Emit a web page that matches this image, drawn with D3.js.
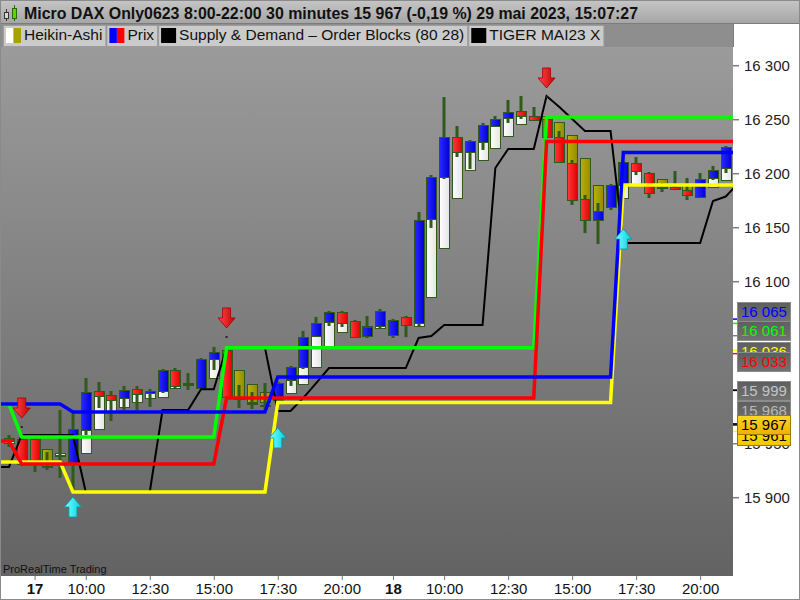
<!DOCTYPE html>
<html><head><meta charset="utf-8">
<script src="https://cdn.jsdelivr.net/npm/d3@7"></script>
<style>body{margin:0;background:#fff}svg{display:block;font-family:"Liberation Sans",Arial,sans-serif}</style>
</head><body><svg id="c" width="800" height="600"></svg>
<script>
// ---------------- DATA ----------------
const titleText = "Micro DAX Only0623 8:00-22:00 30 minutes 15 967 (-0,19 %) 29 mai 2023, 15:07:27";
const legendLabels = ["Heikin-Ashi", "Prix", "Supply & Demand \u2013 Order Blocks (80 28)", "TIGER MAI23 X"];
const footerText = "ProRealTime Trading";

// candles: bar index (0 = day 17, 8:00; 30 min bars, 28 bars per session)
const candleStart = -2;
const priceOpen  = [15954.9,15954.0,15954.0,15929.0,15938.7,15931.8,15962.3,15998.4,15994.7,15992.0,16000.3,15996.6,15998.4,16017.9,16004.9,16001.2,16028.1,16036.4,15992.0,15987.3,15985.5,15990.1,16008.6,16020.7,16049.4,16062.3,16071.6,16063.3,16049.4,16058.6,16050.3,16067.0,16061.4,16157.7,16196.6,16233.6,16219.7,16229.0,16243.8,16251.2,16257.7,16253.1,16250.3,16233.6,16209.5,16176.2,16156.8,16168.8,16189.2,16209.5,16200.3,16187.3,16187.3,16184.5,16178.1,16195.7,16204.9];
const priceHigh  = [15957.7,15955.8,15955.8,15941.9,15980.8,15978.1,16010.5,16006.8,15998.4,16003.1,16003.1,16000.3,16018.8,16019.7,16015.1,16029.0,16039.2,16037.3,16004.0,15997.5,16005.8,16006.8,16021.6,16054.0,16067.0,16072.5,16072.5,16064.2,16067.9,16074.4,16065.1,16067.9,16164.2,16198.4,16270.6,16243.8,16230.8,16246.6,16253.1,16267.9,16271.6,16261.4,16253.1,16239.2,16212.3,16179.9,16172.5,16190.1,16211.4,16215.1,16201.2,16191.0,16202.1,16195.7,16200.3,16206.8,16225.3];
const priceLow   = [15946.6,15929.0,15923.4,15925.3,15917.9,15904.9,15957.7,15982.7,15970.7,15980.8,15980.8,15983.6,15996.6,16001.2,15999.4,16000.3,16017.9,15992.0,15982.7,15981.8,15980.8,15988.3,16003.1,16018.8,16048.4,16058.6,16057.7,16047.5,16047.5,16056.8,16047.5,16048.4,16058.6,16149.4,16194.7,16215.1,16204.0,16221.6,16242.9,16246.6,16250.3,16248.4,16232.7,16209.5,16170.7,16144.7,16134.5,16166.0,16184.5,16198.4,16177.1,16182.7,16184.5,16175.3,16177.1,16193.8,16200.3];
const priceClose = [15952.1,15930.8,15930.8,15928.1,15939.6,15963.3,15997.5,15993.8,15990.1,15999.4,15995.7,15998.4,16017.9,16003.1,16005.0,16028.1,16034.5,15992.9,15991.5,15986.8,15985.0,16005.8,16020.7,16048.4,16061.4,16071.6,16061.4,16048.4,16057.7,16072.5,16064.2,16059.5,16156.8,16196.6,16233.6,16219.7,16229.9,16244.7,16250.3,16256.8,16253.1,16249.4,16233.6,16210.5,16175.3,16156.8,16165.1,16189.2,16210.5,16202.1,16181.8,16186.4,16185.5,16179.9,16194.7,16203.1,16224.4];
const haOpen     = [15950.3,15952.1,15947.3,15944.7,15938.3,15939.6,15941.0,15963.3,15979.0,15983.6,15988.3,15992.0,15992.9,16001.2,16004.0,16004.9,16010.5,16022.0,16017.9,16004.9,15997.5,15992.9,15996.6,16004.9,16020.7,16039.2,16053.1,16061.9,16058.6,16056.8,16063.3,16060.0,16058.6,16085.5,16130.8,16177.1,16203.1,16212.3,16223.4,16234.5,16245.6,16251.7,16253.1,16247.5,16235.5,16214.2,16189.2,16173.4,16177.1,16190.1,16198.9,16194.5,16190.5,16189.2,16186.6,16187.3,16193.8];
const haClose    = [15954.0,15942.4,15941.0,15929.0,15941.0,15944.7,15981.8,15996.6,15991.0,15997.5,16000.3,15998.4,16016.0,16017.0,16005.8,16015.1,16033.6,16014.6,15992.0,15988.3,15988.3,15997.5,16019.7,16046.6,16060.5,16069.7,16070.7,16055.8,16055.8,16069.7,16056.8,16060.7,16110.5,16175.3,16223.9,16228.1,16221.6,16235.5,16247.5,16255.8,16257.7,16253.1,16242.4,16223.4,16192.0,16164.2,16157.2,16178.5,16198.9,16207.7,16190.1,16186.4,16189.9,16184.1,16187.5,16201.2,16213.7];

// indicator lines, one value per bar from index -3 to 55
const lineStart = -3;
const blueLine   = [15986.4,15986.4,15986.4,15986.4,15986.4,15986.4,15979.0,15979.0,15979.0,15979.0,15979.0,15979.0,15979.0,15979.0,15979.0,15979.0,15979.0,15979.0,15979.0,15979.0,15979.0,15979.0,16011.4,16011.4,16011.4,16011.4,16011.4,16011.4,16011.4,16011.4,16011.4,16011.4,16011.4,16011.4,16011.4,16011.4,16011.4,16011.4,16011.4,16011.4,16011.4,16011.4,16011.4,16011.4,16011.4,16011.4,16011.4,16011.4,16011.4,16219.3,16219.3,16219.3,16219.3,16219.3,16219.3,16219.3,16219.3,16219.3,16219.3];
const greenLine  = [15986.0,15986.0,15955.8,15955.8,15955.8,15955.8,15955.8,15955.8,15955.8,15955.8,15955.8,15955.8,15955.8,15955.8,15955.8,15955.8,15955.8,15955.8,16038.5,16038.5,16038.5,16038.5,16038.5,16038.5,16038.5,16038.5,16038.5,16038.5,16038.5,16038.5,16038.5,16038.5,16038.5,16038.5,16038.5,16038.5,16038.5,16038.5,16038.5,16038.5,16038.5,16038.5,16038.5,16252.1,16252.1,16252.1,16252.1,16252.1,16252.1,16252.1,16252.1,16252.1,16252.1,16252.1,16252.1,16252.1,16252.1,16252.1,16252.1];
const redLine    = [15952.1,15952.1,15930.8,15930.8,15930.8,15930.8,15930.8,15930.8,15930.8,15930.8,15930.8,15930.8,15930.8,15930.8,15930.8,15930.8,15930.8,15930.8,15992.0,15992.0,15992.0,15992.0,15992.0,15992.0,15992.0,15992.0,15992.0,15992.0,15992.0,15992.0,15992.0,15992.0,15992.0,15992.0,15992.0,15992.0,15992.0,15992.0,15992.0,15992.0,15992.0,15992.0,15992.0,16229.5,16229.5,16229.5,16229.5,16229.5,16229.5,16229.5,16229.5,16229.5,16229.5,16229.5,16229.5,16229.5,16229.5,16229.5,16229.5];
const yellowLine = [15932.7,15932.7,15932.7,15932.7,15932.7,15932.7,15904.9,15904.9,15904.9,15904.9,15904.9,15904.9,15904.9,15904.9,15904.9,15904.9,15904.9,15904.9,15904.9,15904.9,15904.9,15904.9,15987.8,15987.8,15987.8,15987.8,15987.8,15987.8,15987.8,15987.8,15987.8,15987.8,15987.8,15987.8,15987.8,15987.8,15987.8,15987.8,15987.8,15987.8,15987.8,15987.8,15987.8,15987.8,15987.8,15987.8,15987.8,15987.8,15987.8,16189.2,16189.2,16189.2,16189.2,16189.2,16189.2,16189.2,16189.2,16189.2,16189.2];
const blackLine  = [15928.1,15928.1,15957.7,15957.7,15957.7,15957.7,15957.7,15904.9,15904.9,15904.9,15904.9,15904.9,15904.9,15980.8,15980.8,15980.8,16000.1,16000.1,16038.5,16038.5,16038.5,16038.5,15979.9,15979.9,15992.0,16005.8,16019.7,16019.7,16019.7,16019.7,16019.7,16019.7,16019.7,16047.5,16049.4,16059.5,16059.5,16059.5,16059.5,16204.9,16222.5,16222.5,16222.5,16271.6,16261.4,16250.3,16239.2,16239.2,16239.2,16135.5,16135.5,16135.5,16135.5,16135.5,16135.5,16135.5,16174.4,16178.5,16191.0];

// signal arrows (bar index, price of the arrow tip)
const sellIdx = [-1, 15, 40];
const sellPrice = [15973.4, 16056.8, 16279.0];
const buyIdx = [3, 19, 46];
const buyPrice = [15900.3, 15964.2, 16148.4];

// axes
const timeTickIdx = [0, 4, 9, 14, 19, 24, 28, 32, 37, 42, 47, 52];
const timeTickLabels = ["17", "10:00", "12:30", "15:00", "17:30", "20:00", "18", "10:00", "12:30", "15:00", "17:30", "20:00"];
const dayLabels = ["17", "18"];
const priceTicks = [15900, 15950, 16000, 16050, 16100, 16150, 16200, 16250, 16300];

// right-hand price tags
const tagValues = [16065, 16061, 16036, 16033, 15999, 15968, 15961, 15967];

// ---------------- STYLES / LAYOUT ----------------
const tagStyles = [
  {text:"#0000ff", bg:"grey", tick:"#0000ff"},
  {text:"#00ff00", bg:"grey", tick:"#00ff00"},
  {text:"#ffff00", bg:"grey", tick:"#ffff00"},
  {text:"#ff0000", bg:"grey", tick:"#ff0000"},
  {text:"#c4c4c4", bg:"grey", tick:"#000000"},
  {text:"#b8b8b8", bg:"grey", tick:"#000000"},
  {text:"#000000", bg:"yellow", tick:"#ffff00"},
  {text:"#000000", bg:"gold", tick:"#000000"}
];
const tagNudge = [-8, 6.7, 1.2, 7.4, 0, -13.3, 4.5, -0.4];
const legendSwatches = [["#ffffff", "#a9a100"], ["#0000ff", "#ff0000"], ["#000000"], ["#000000"]];
const C = {wick:"#2f5a1c"};

const PX0 = 0, PX1 = 733, PY0 = 47, PY1 = 576;

const svg = d3.select("#c");
const defs = svg.append("defs");
function lg(id, dir, stops) {
  const g = defs.append("linearGradient").attr("id", id)
    .attr("x1", 0).attr("y1", 0).attr("x2", dir === "h" ? 1 : 0).attr("y2", dir === "h" ? 0 : 1);
  stops.forEach((s, i) => g.append("stop").attr("offset", i / (stops.length - 1)).attr("stop-color", s));
}
lg("gPlot", "v", ["#9b9b9b", "#636363"]);
lg("gTitle", "v", ["#c6c6c6", "#a6a6a6"]);
lg("gWhite", "h", ["#ffffff", "#e4e4e4"]);
lg("gOlive", "h", ["#bab200", "#948c00"]);
lg("gBlue", "h", ["#2a2aff", "#0000d8"]);
lg("gRed", "h", ["#ff3a3a", "#e00000"]);
lg("gArrowR", "h", ["#ff4a4a", "#c80000"]);
lg("gArrowC", "h", ["#7fffff", "#00d0e0"]);
lg("gTagGrey", "v", ["#5e5e5e", "#727272"]);
lg("gTagGold", "v", ["#ffd820", "#eeb000"]);
lg("gTagYellow", "v", ["#ffee00", "#f2c400"]);
defs.append("clipPath").attr("id", "clipPlot").append("rect")
  .attr("x", PX0).attr("y", PY0).attr("width", PX1 - PX0).attr("height", PY1 - PY0);

// backgrounds
svg.append("rect").attr("x", 0).attr("y", 0).attr("width", 800).attr("height", 600).attr("fill", "#fff");
svg.append("rect").attr("x", PX0).attr("y", PY0).attr("width", PX1 - PX0).attr("height", PY1 - PY0).attr("fill", "url(#gPlot)");
svg.append("rect").attr("x", 0).attr("y", 23).attr("width", PX1).attr("height", PY0 - 23).attr("fill", "#8e8e8e");
svg.append("rect").attr("x", 0).attr("y", 0).attr("width", 800).attr("height", 23).attr("fill", "url(#gTitle)");
svg.append("line").attr("x1", 0).attr("x2", 800).attr("y1", 23.5).attr("y2", 23.5).attr("stroke", "#7c7c7c");
svg.append("line").attr("x1", PX1 + 0.5).attr("x2", PX1 + 0.5).attr("y1", 24).attr("y2", PY0).attr("stroke", "#7c7c7c");

// scales
const x = d3.scaleLinear().domain([-2.7, 54.6]).range([PX0, PX0 + 57.3 * 12.8]);
const y = d3.scaleLinear().domain([15900, 16300]).range([497.3, 65.3]);

// ---------------- candles ----------------
const candles = priceOpen.map((o, k) => ({
  i: candleStart + k, o, h: priceHigh[k], l: priceLow[k], c: priceClose[k], ho: haOpen[k], hc: haClose[k]
}));
const gC = svg.append("g").attr("clip-path", "url(#clipPlot)");
const half = 5;
function box(sel, a, b, fill) {
  const y1 = Math.round(y(Math.max(a, b))), y2 = Math.round(y(Math.min(a, b)));
  sel.append("rect").attr("x", d => Math.round(x(d.i)) - half + 0.5).attr("width", 2 * half)
    .attr("y", y1 + 0.5).attr("height", Math.max(1, y2 - y1)).attr("fill", fill)
    .attr("stroke", C.wick).attr("stroke-width", 1);
}
candles.forEach(d => {
  const g = gC.append("g").datum(d);
  box(g, d.ho, d.hc, d.hc >= d.ho ? "url(#gWhite)" : "url(#gOlive)");
  g.append("rect").attr("x", Math.round(x(d.i)) - 1.5).attr("width", 3)
    .attr("y", y(d.h)).attr("height", y(d.l) - y(d.h)).attr("fill", C.wick);
  box(g, d.o, d.c, d.c >= d.o ? "url(#gBlue)" : "url(#gRed)");
});

// ---------------- lines ----------------
const gL = svg.append("g").attr("clip-path", "url(#clipPlot)");
const lineGen = d3.line().x((v, k) => x(lineStart + k)).y(v => y(v));
[[blackLine, "#000000", 2], [yellowLine, "#ffff00", 3.5], [greenLine, "#00ff00", 3.5],
 [redLine, "#ff0000", 3.5], [blueLine, "#0000ff", 3.5]].forEach(([vals, col, w]) => {
  gL.append("path").attr("d", lineGen(vals)).attr("fill", "none").attr("stroke", col)
    .attr("stroke-width", w).attr("stroke-linejoin", "miter");
});

// ---------------- arrows ----------------
const downArrow = "M-4,-20 L4,-20 L4,-10 L8.5,-10 L0,0 L-8.5,-10 L-4,-10 Z";
const upArrow = "M-4,20 L4,20 L4,10 L8.5,10 L0,0 L-8.5,10 L-4,10 Z";
sellIdx.forEach((i, k) => {
  const ax = x(i), ay = y(sellPrice[k]);
  gL.append("path").attr("d", downArrow).attr("transform", `translate(${ax},${ay})`)
    .attr("fill", "url(#gArrowR)").attr("stroke", "#a00000").attr("stroke-width", 0.8);
  gL.append("rect").attr("x", ax - 1).attr("y", ay + 8).attr("width", 2).attr("height", 2).attr("fill", "#222");
});
buyIdx.forEach((i, k) => {
  const ax = x(i), ay = y(buyPrice[k]);
  gL.append("path").attr("d", upArrow).attr("transform", `translate(${ax},${ay})`)
    .attr("fill", "url(#gArrowC)").attr("stroke", "#0098a8").attr("stroke-width", 0.8);
});

svg.append("text").attr("x", 3).attr("y", 572.5).attr("font-size", 11).attr("fill", "#111").text(footerText);

// ---------------- right axis ----------------
const yAxis = d3.axisRight(y).tickValues(priceTicks).tickSize(6).tickPadding(5)
  .tickFormat(d => d3.format(",")(d).replace(",", " "));
const gY = svg.append("g").attr("transform", `translate(${PX1},0)`).call(yAxis);
gY.select(".domain").remove();
gY.selectAll("line").attr("stroke", "#444");
gY.selectAll("text").attr("font-size", 15).attr("fill", "#222").attr("font-family", "Liberation Sans, Arial, sans-serif");

// price tags
const tagBg = {grey: "url(#gTagGrey)", gold: "url(#gTagGold)", yellow: "url(#gTagYellow)"};
tagValues.forEach((v, k) => {
  const st = tagStyles[k];
  const yc = y(v) + tagNudge[k];
  svg.append("line").attr("x1", PX1).attr("x2", PX1 + 5).attr("y1", y(v)).attr("y2", y(v))
    .attr("stroke", st.tick).attr("stroke-width", 1.5);
  svg.append("rect").attr("x", 737.5).attr("y", Math.round(yc - 9.5) + 0.5).attr("width", 53).attr("height", 19)
    .attr("fill", tagBg[st.bg]).attr("stroke", st.bg === "grey" ? "#8c8c8c" : "#9a7a00").attr("stroke-width", 1);
  svg.append("text").attr("x", 741).attr("y", yc + 5.5).attr("font-size", 15).attr("fill", st.text)
    .text(d3.format(",")(v).replace(",", " "));
});

// ---------------- bottom axis ----------------
svg.append("rect").attr("x", 0).attr("y", PY1).attr("width", 800).attr("height", 600 - PY1).attr("fill", "#fff");
const xAxis = d3.axisBottom(x).tickValues(timeTickIdx).tickSize(4).tickPadding(3)
  .tickFormat((d, k) => timeTickLabels[k]);
const gX = svg.append("g").attr("transform", `translate(0,${PY1})`).call(xAxis);
gX.select(".domain").remove();
gX.selectAll("line").attr("stroke", "#777");
gX.selectAll("text").attr("font-size", 15).attr("fill", "#111").attr("font-family", "Liberation Sans, Arial, sans-serif")
  .attr("font-weight", (d, k) => dayLabels.includes(timeTickLabels[k]) ? "bold" : "normal");

// ---------------- title & legend ----------------
const icon = svg.append("g");
icon.append("line").attr("x1", 6.5).attr("x2", 6.5).attr("y1", 9).attr("y2", 21).attr("stroke", "#333");
icon.append("rect").attr("x", 4.5).attr("y", 12.5).attr("width", 4).attr("height", 6).attr("fill", "#d8d8d8").attr("stroke", "#333");
icon.append("line").attr("x1", 14.5).attr("x2", 14.5).attr("y1", 5).attr("y2", 21).attr("stroke", "#1f6e00");
icon.append("rect").attr("x", 12.5).attr("y", 8.5).attr("width", 4).attr("height", 10).attr("fill", "#5fd400").attr("stroke", "#1f6e00");
svg.append("text").attr("x", 24).attr("y", 18.5).attr("font-size", 16).attr("font-weight", "bold").attr("fill", "#111")
  .attr("textLength", 614).attr("lengthAdjust", "spacingAndGlyphs").text(titleText);

let lx = 3;
legendLabels.forEach((lab, k) => {
  const g = svg.append("g");
  const r = g.append("rect").attr("y", 25.5).attr("height", 21).attr("fill", "#cbcbcb").attr("stroke", "#9c9c9c");
  const sw = legendSwatches[k];
  const swW = 15 / sw.length;
  sw.forEach((col, j) => g.append("rect").attr("x", lx + 3 + j * swW).attr("y", 28).attr("width", swW).attr("height", 15).attr("fill", col));
  const t = g.append("text").attr("x", lx + 21).attr("y", 39.5).attr("font-size", 15.5).attr("fill", "#111").text(lab);
  const tw = t.node().getComputedTextLength();
  const w = 21 + tw + 3;
  r.attr("x", lx + 0.5).attr("width", w);
  lx += w + 1;
});

svg.append("rect").attr("x", 0.5).attr("y", 0.5).attr("width", 799).attr("height", 599).attr("fill", "none").attr("stroke", "#8a8a8a");
</script></body></html>
